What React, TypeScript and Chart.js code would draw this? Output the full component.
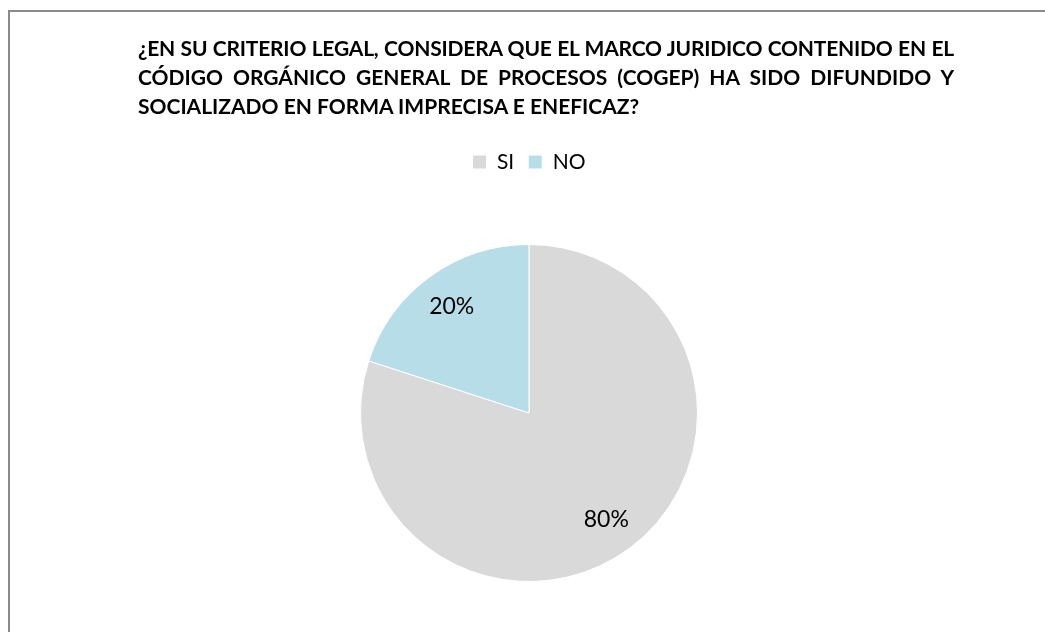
import React, { useEffect, useRef } from "react";
import { Chart, registerables } from "chart.js";

Chart.register(...registerables);

const titleLines = [
  "¿EN SU CRITERIO LEGAL, CONSIDERA QUE EL MARCO JURIDICO CONTENIDO EN EL",
  "CÓDIGO ORGÁNICO GENERAL DE PROCESOS (COGEP) HA SIDO DIFUNDIDO Y",
  "SOCIALIZADO EN FORMA IMPRECISA E ENEFICAZ?",
];
const categories = ["SI", "NO"];
const values = [80, 20];
const colors = ["#D9D9D9", "#B7DEE8"];

const pctLabels = {
  id: "pctLabels",
  afterDatasetsDraw(chart: any) {
    const ctx = chart.ctx;
    const meta = chart.getDatasetMeta(0);
    const data = chart.data.datasets[0].data as number[];
    const total = data.reduce((a, b) => a + b, 0);
    ctx.save();
    ctx.font = "23px Lato";
    ctx.fillStyle = "#000000";
    ctx.textAlign = "center";
    ctx.textBaseline = "middle";
    meta.data.forEach((arc: any, i: number) => {
      const p = arc.getProps(["x", "y", "startAngle", "endAngle", "outerRadius"], true);
      const mid = (p.startAngle + p.endAngle) / 2;
      const r = p.outerRadius * 0.78;
      const label = Math.round((data[i] / total) * 100) + "%";
      ctx.fillText(label, p.x + Math.cos(mid) * r, p.y + Math.sin(mid) * r);
    });
    ctx.restore();
  },
};

export default function App() {
  const ref = useRef<HTMLCanvasElement | null>(null);
  useEffect(() => {
    if (!ref.current) return;
    Chart.defaults.font.family = "Lato";
    const chart = new Chart(ref.current, {
      type: "pie",
      data: {
        labels: categories,
        datasets: [
          {
            data: values,
            backgroundColor: colors,
            borderColor: "#FFFFFF",
            borderWidth: 1,
          },
        ],
      },
      options: {
        responsive: false,
        animation: false,
        layout: { padding: { top: 137.5, bottom: 50, left: 13, right: 0 } },
        plugins: {
          legend: {
            position: "top",
            weight: 3000,
            labels: {
              boxWidth: 14,
              boxHeight: 14,
              padding: 14,
              color: "#000000",
              font: { size: 21, family: "Lato" },
            },
          } as any,
          subtitle: {
            display: true,
            text: " ",
            font: { size: 1, lineHeight: 1 },
            padding: { top: 60.5, bottom: 0 },
          },
          tooltip: { enabled: false },
        },
      },
      plugins: [pctLabels],
    });
    return () => chart.destroy();
  }, []);

  const lineStyle = (i: number): React.CSSProperties => {
    const justify = i < titleLines.length - 1;
    return {
      textAlign: justify ? "justify" : "left",
      textAlignLast: justify ? "justify" : "left",
      whiteSpace: "nowrap",
      letterSpacing: i === 0 ? "-0.2px" : "0px",
    } as any;
  };

  return (
    <div
      style={{
        position: "absolute",
        left: 0,
        top: 0,
        width: 1045,
        height: 632,
        overflow: "hidden",
        background: "#ffffff",
      }}
    >
      <div
        style={{
          position: "absolute",
          left: 8,
          top: 10,
          width: 1100,
          height: 700,
          borderTop: "2px solid #8a8a8a",
          borderLeft: "2px solid #8a8a8a",
        }}
      />
      <canvas
        ref={ref}
        width={1045}
        height={632}
        style={{ position: "absolute", left: 0, top: 0, width: 1045, height: 632 }}
      />
      <div
        style={{
          position: "absolute",
          left: 138,
          top: 33,
          width: 816,
          fontFamily: "Lato",
          fontWeight: 700,
          fontSize: 21,
          lineHeight: "29px",
          color: "#000000",
        }}
      >
        {titleLines.map((t, i) => (
          <div key={i} style={lineStyle(i)}>
            {t}
          </div>
        ))}
      </div>
    </div>
  );
}
